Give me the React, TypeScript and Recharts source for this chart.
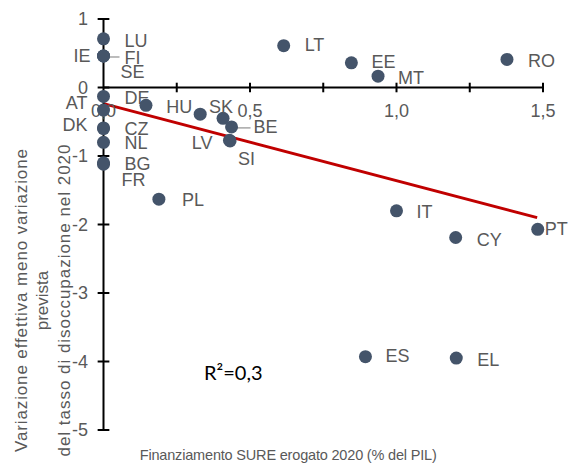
import React from "react";
import {
  ScatterChart,
  Scatter,
  XAxis,
  YAxis,
  ReferenceLine,
  ReferenceDot,
} from "recharts";

// country codes, SURE disbursed 2020 (% of GDP), actual minus forecast unemployment change
const COUNTRIES = [
  "LU", "IE", "FI", "SE", "AT", "DE", "DK", "CZ", "NL", "BG", "FR", "HR",
  "HU", "SK", "BE", "LV", "SI", "PL", "LT", "EE", "MT", "RO", "IT", "CY",
  "PT", "ES", "EL",
];
const SURE_GDP = [
  0, 0, 0, 0, 0, 0, 0, 0, 0, 0, 0, 0.145,
  0.33, 0.408, 0.437, 0.43, 0.432, 0.189, 0.615, 0.846, 0.937, 1.377, 1.0, 1.202,
  1.482, 0.894, 1.204,
];
const UNEMP_GAP = [
  0.71, 0.46, 0.46, 0.46, -0.13, -0.33, -0.59, -0.6, -0.8, -1.1, -1.12, -0.26,
  -0.39, -0.45, -0.575, -0.77, -0.78, -1.63, 0.61, 0.36, 0.165, 0.41, -1.8, -2.19,
  -2.07, -3.93, -3.95,
];

const TREND_X = [0, 1.48];
const TREND_Y = [-0.236, -1.9];

const Y_TICKS = [-5, -4, -3, -2, -1, 0, 1];
const X_TICKS = [0.25, 0.5, 0.75, 1, 1.25, 1.5];
const X_LABEL_VALUES = [0, 0.5, 1, 1.5];
const X_LABEL_TEXT = ["0,0", "0,5", "1,0", "1,5"];

const R2_TEXT = "R²=0,3";
const R2_AT = { x: 0.443, y: -4.16 };

const Y_TITLE = [
  "Variazione effettiva meno variazione",
  "prevista",
  "del tasso di disoccupazione nel 2020",
];
const X_TITLE = "Finanziamento SURE erogato 2020 (% del PIL)";

const DOT = "#44546a";
const GREY = "#595959";
const FONT = '"Liberation Sans", Arial, sans-serif';

type LabelPos = { dx: number; dy: number; end?: boolean; leader?: [number, number] };

// where each country code sits relative to its dot
const LABEL_POS: Record<string, LabelPos | null> = {
  LU: { dx: 21, dy: 2 },
  IE: { dx: -13, dy: 0, end: true },
  FI: { dx: 21, dy: 2, leader: [4, 16] },
  SE: { dx: 17, dy: 16 },
  AT: { dx: -16, dy: 7, end: true },
  DE: { dx: 21, dy: -12 },
  DK: { dx: -16, dy: -3, end: true },
  CZ: { dx: 21, dy: 0 },
  NL: { dx: 21, dy: 1 },
  BG: { dx: 21, dy: 1 },
  FR: { dx: 18, dy: 16 },
  HR: null,
  HU: { dx: -8, dy: -7, end: true },
  SK: { dx: -14, dy: -11 },
  BE: { dx: 22, dy: 0, leader: [5, 19] },
  LV: { dx: -17, dy: 3, end: true },
  SI: { dx: 8, dy: 18 },
  PL: { dx: 23, dy: 1 },
  LT: { dx: 21, dy: -1 },
  EE: { dx: 20, dy: -1 },
  MT: { dx: 20, dy: 1.5 },
  RO: { dx: 21, dy: 1.5 },
  IT: { dx: 20, dy: 1 },
  CY: { dx: 21, dy: 2 },
  PT: { dx: 7, dy: 0 },
  ES: { dx: 20, dy: -1 },
  EL: { dx: 21, dy: 2 },
};

const points = COUNTRIES.map((name, i) => ({
  name,
  x: SURE_GDP[i],
  y: UNEMP_GAP[i],
}));

function CountryDot(props: any) {
  const { cx, cy, payload } = props;
  const pos = LABEL_POS[payload.name];
  return (
    <g>
      {pos && pos.leader && (
        <line
          x1={cx + pos.leader[0]}
          x2={cx + pos.leader[1]}
          y1={cy + 1}
          y2={cy + 1}
          stroke="#a6a6a6"
          strokeWidth={1.5}
        />
      )}
      <circle cx={cx} cy={cy} r={6.5} fill={DOT} />
      {pos && (
        <text
          x={cx + pos.dx}
          y={cy + pos.dy}
          textAnchor={pos.end ? "end" : "start"}
          dominantBaseline="central"
          fontSize={18}
          fill={GREY}
          fontFamily={FONT}
        >
          {payload.name}
        </text>
      )}
    </g>
  );
}

function YTitle(props: any) {
  const { viewBox } = props;
  const cy = viewBox.y + viewBox.height / 2 + 76;
  const cols = [21, 42, 64];
  const lengths = [303, 0, 312];
  return (
    <g>
      {Y_TITLE.map((line, i) => {
        const cx = viewBox.x + cols[i];
        return (
          <text
            key={line}
            x={cx}
            y={cy}
            transform={`rotate(-90 ${cx} ${cy})`}
            textAnchor="middle"
            dominantBaseline="central"
            fontSize={17}
            fill={GREY}
            fontFamily={FONT}
            {...(lengths[i] ? { textLength: lengths[i], lengthAdjust: "spacing" } : {})}
          >
            {line}
          </text>
        );
      })}
    </g>
  );
}

function XTitle(props: any) {
  const { viewBox } = props;
  const cx = viewBox.x + viewBox.width / 2 - 35;
  return (
    <text
      x={cx}
      y={viewBox.y + 25}
      textAnchor="middle"
      dominantBaseline="central"
      fontSize={14.5}
      fill={GREY}
      fontFamily={FONT}
      textLength={297}
      lengthAdjust="spacing"
    >
      {X_TITLE}
    </text>
  );
}

export default function App() {
  return (
    <div style={{ position: "absolute", left: 0, top: 0, background: "#fff" }}>
      <ScatterChart
        width={568}
        height={468}
        margin={{ top: 19, right: 25, bottom: 0, left: 0 }}
        style={{ fontFamily: FONT }}
      >
        <XAxis
          type="number"
          dataKey="x"
          domain={[0, 1.5]}
          ticks={X_TICKS}
          tick={false}
          tickLine={false}
          axisLine={false}
          height={38}
          label={{ content: <XTitle /> }}
        />
        <YAxis
          type="number"
          dataKey="y"
          domain={[-5, 1]}
          ticks={Y_TICKS}
          width={103.5}
          axisLine={{ stroke: "#000", strokeWidth: 2 }}
          tickLine={false}
          tickMargin={9.5}
          tick={{ fill: GREY, fontSize: 18 }}
          label={{ content: <YTitle /> }}
        />
        <ReferenceLine y={0} stroke="#000" strokeWidth={2} />
        {X_TICKS.map((v) => (
          <ReferenceLine
            key={`xt-${v}`}
            segment={[
              { x: v, y: -0.07 },
              { x: v, y: 0.07 },
            ]}
            stroke="#000"
            strokeWidth={2}
            ifOverflow="visible"
          />
        ))}
        {Y_TICKS.map((v) => (
          <ReferenceLine
            key={`yt-${v}`}
            segment={[
              { x: -0.02, y: v },
              { x: 0.02, y: v },
            ]}
            stroke="#000"
            strokeWidth={2}
            ifOverflow="visible"
          />
        ))}
        {X_LABEL_VALUES.map((v, i) => (
          <ReferenceDot
            key={`xl-${v}`}
            x={v}
            y={0}
            ifOverflow="visible"
            shape={(p: any) => (
              <text
                x={p.cx}
                y={p.cy + 23}
                textAnchor="middle"
                dominantBaseline="central"
                fontSize={18}
                fill={GREY}
                fontFamily={FONT}
              >
                {X_LABEL_TEXT[i]}
              </text>
            )}
          />
        ))}
        <Scatter
          data={points}
          shape={<CountryDot />}
          isAnimationActive={false}
        />
        <ReferenceLine
          segment={[
            { x: TREND_X[0], y: TREND_Y[0] },
            { x: TREND_X[1], y: TREND_Y[1] },
          ]}
          stroke="#c00000"
          strokeWidth={3}
          ifOverflow="visible"
        />
        <ReferenceDot
          x={R2_AT.x}
          y={R2_AT.y}
          ifOverflow="visible"
          shape={(p: any) => (
            <text
              x={p.cx}
              y={p.cy}
              textAnchor="middle"
              dominantBaseline="central"
              fontSize={20}
              fill="#000"
              fontFamily="Lato, 'Open Sans', sans-serif"
            >
              {R2_TEXT}
            </text>
          )}
        />
      </ScatterChart>
    </div>
  );
}
